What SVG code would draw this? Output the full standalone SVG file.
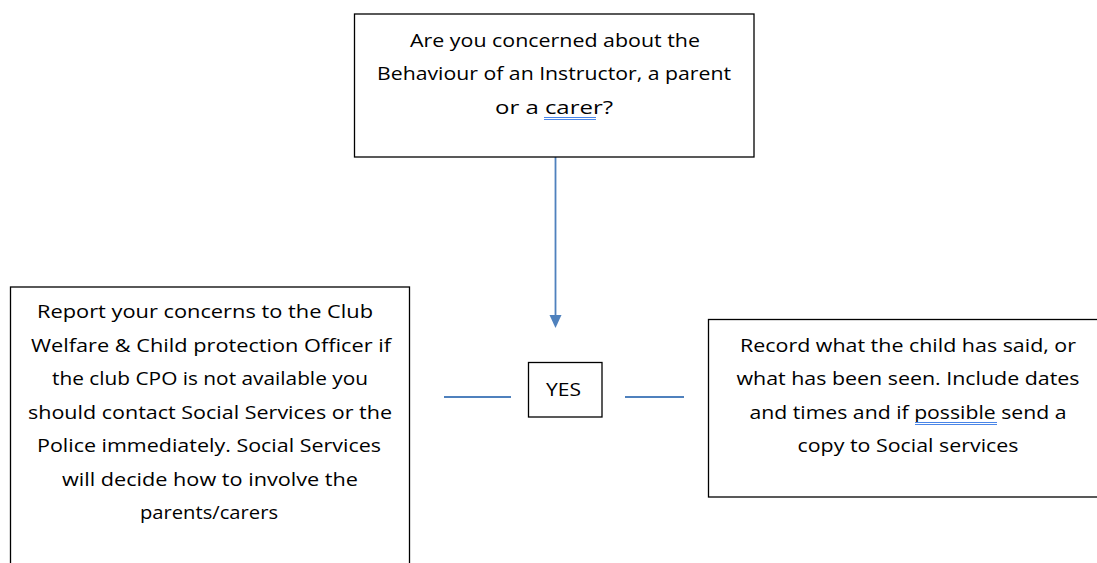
<svg xmlns="http://www.w3.org/2000/svg" width="1097" height="563" viewBox="0 0 1097 563">
<style>
.box{fill:#fff;stroke:#000;stroke-width:1.3}
.t{font-family:"Open Sans","Liberation Sans",sans-serif;font-size:18.5px;fill:#000;text-anchor:middle}
.conn{stroke:#4F81BD;stroke-width:1.8;fill:none}
.sp{stroke:#4A86E8;stroke-width:1}
</style>
<rect width="1097" height="563" fill="#fff"/>
<g id="connectors">
<line class="conn" x1="555.5" y1="157" x2="555.5" y2="316"/>
<path d="M549.5,315 L561.5,315 L555.5,328 Z" fill="#4F81BD"/>
<line class="conn" x1="444" y1="397" x2="511" y2="397"/>
<line class="conn" x1="625" y1="397" x2="684" y2="397"/>
</g>
<g id="question">
<rect class="box" x="354.5" y="14" width="399.5" height="143"/>
<text class="t" x="555" y="46.5" textLength="290" lengthAdjust="spacingAndGlyphs">Are you concerned about the</text>
<text class="t" x="554" y="80" textLength="354" lengthAdjust="spacingAndGlyphs">Behaviour of an Instructor, a parent</text>
<text class="t" x="554" y="113.5" textLength="118" lengthAdjust="spacingAndGlyphs">or a carer?</text>
<line class="sp" x1="544" y1="117.5" x2="596" y2="117.5"/>
<line class="sp" x1="544" y1="119.5" x2="596" y2="119.5"/>
</g>
<g id="yes">
<rect class="box" x="528.5" y="362.5" width="73.5" height="54.5"/>
<text class="t" x="563.5" y="396" textLength="35" lengthAdjust="spacingAndGlyphs">YES</text>
</g>
<g id="report">
<rect class="box" x="10.5" y="287" width="399" height="300"/>
<text class="t" x="205" y="318" textLength="336" lengthAdjust="spacingAndGlyphs">Report your concerns to the Club</text>
<text class="t" x="211" y="351.5" textLength="360" lengthAdjust="spacingAndGlyphs">Welfare &amp; Child protection Officer if</text>
<text class="t" x="210" y="385" textLength="316" lengthAdjust="spacingAndGlyphs">the club CPO is not available you</text>
<text class="t" x="210" y="418.5" textLength="364" lengthAdjust="spacingAndGlyphs">should contact Social Services or the</text>
<text class="t" x="209" y="452" textLength="344" lengthAdjust="spacingAndGlyphs">Police immediately. Social Services</text>
<text class="t" x="210" y="485.5" textLength="296" lengthAdjust="spacingAndGlyphs">will decide how to involve the</text>
<text class="t" x="209" y="519" textLength="138" lengthAdjust="spacingAndGlyphs">parents/carers</text>
</g>
<g id="record">
<rect class="box" x="708.5" y="319.5" width="400" height="177.5"/>
<text class="t" x="908" y="351.5" textLength="336" lengthAdjust="spacingAndGlyphs">Record what the child has said, or</text>
<text class="t" x="908" y="385" textLength="343" lengthAdjust="spacingAndGlyphs">what has been seen. Include dates</text>
<text class="t" x="908" y="418.5" textLength="317" lengthAdjust="spacingAndGlyphs">and times and if possible send a</text>
<text class="t" x="908" y="452" textLength="221" lengthAdjust="spacingAndGlyphs">copy to Social services</text>
<line class="sp" x1="915" y1="422.5" x2="997" y2="422.5"/>
<line class="sp" x1="915" y1="424.5" x2="997" y2="424.5"/>
</g>
</svg>
